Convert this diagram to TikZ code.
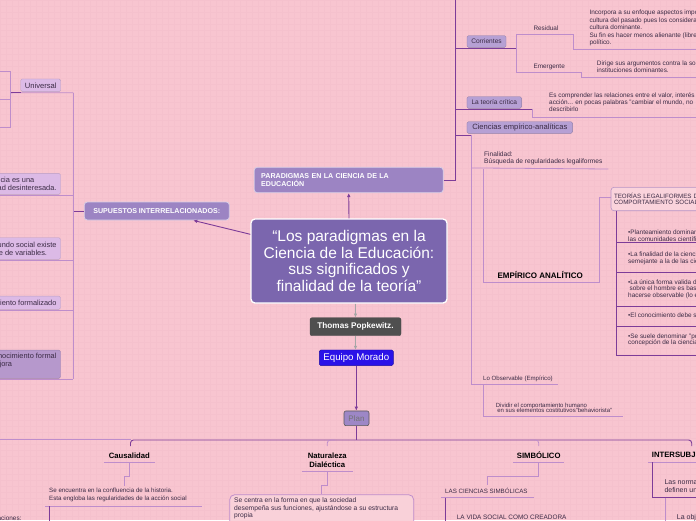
\documentclass[tikz,border=0pt]{standalone}
\usepackage{fontspec}
\setmainfont{Liberation Sans}
\usetikzlibrary{arrows.meta}
\definecolor{fondo}{HTML}{F8C5D0}
\definecolor{rejilla}{HTML}{F5C1CD}
\definecolor{centroc}{HTML}{7B66AE}
\definecolor{cabezac}{HTML}{9C84C3}
\definecolor{lila}{HTML}{B6A0D4}
\definecolor{lilaclaro}{HTML}{DCBAE6}
\definecolor{lilaosc}{HTML}{B698CC}
\definecolor{lineaosc}{HTML}{7D3C98}
\definecolor{lineaclc}{HTML}{BE8DCB}
\definecolor{texto}{HTML}{3B2B45}
\definecolor{grisc}{HTML}{4F4F4F}
\definecolor{azulc}{HTML}{2A12E8}
\definecolor{planc}{HTML}{9D87C6}
\newcommand{\tam}[2]{\fontsize{#1}{#2}\selectfont}

\begin{document}
\begin{tikzpicture}[x=1pt,y=-1pt,
  tema/.style={fill=centroc,draw=white,line width=1.3pt,rounded corners=4pt,text=white,
    align=center,font=\tam{15.5}{16.7},minimum width=196,minimum height=84,inner sep=0},
  cabeza/.style={fill=cabezac,draw=white!60!cabezac,line width=0.8pt,rounded corners=3pt,
    text=white,font=\bfseries\tam{7.1}{8},inner sep=0},
  rama/.style={fill=lila,draw=lila!80!black,line width=0.4pt,rounded corners=1.5pt,
    text=texto,font=\tam{6.6}{8},inner sep=0},
  hoja/.style={inner sep=0,text=texto,font=\tam{6.4}{7.35},align=left,anchor=west},
  etiq/.style={inner sep=0,text=black,font=\bfseries\tam{7.7}{9},align=center},
  izq/.style={fill=lilaclaro,draw=lilaclaro!85!black,line width=0.4pt,rounded corners=1.5pt,
    text=texto,font=\tam{7.4}{8},align=left,inner xsep=4pt,inner ysep=0,anchor=east},
  linea/.style={draw=lineaosc,line width=0.9pt},
  lineacl/.style={draw=lineaclc,line width=0.8pt},
  punta/.style={-{Latex[length=4pt,width=3.6pt]}}]
\clip (0,0) rectangle (696,520);
% fondo con rejilla
\fill[fondo] (0,0) rectangle (696,520);
\foreach \i in {0,6,...,696} { \draw[rejilla,line width=0.25pt] (\i,0) -- (\i,520); }
\foreach \j in {0,6,...,520} { \draw[rejilla,line width=0.25pt] (0,\j) -- (696,\j); }

% tema central
\node[tema] (tema) at (349,261) {“Los paradigmas en la\\Ciencia de la Educación:\\sus significados y\\finalidad de la teoría”};
\node[cabeza,minimum width=189,minimum height=25.4,text width=175,align=left] (parad) at (348.7,180)
  {PARADIGMAS EN LA CIENCIA DE LA\\EDUCACIÓN};
\node[cabeza,minimum width=145,minimum height=18] (sup) at (156.8,211) {SUPUESTOS INTERRELACIONADOS:};
\node[fill=grisc,draw=black!70,rounded corners=2pt,text=white,font=\bfseries\tam{8.2}{9},
  minimum width=91,minimum height=18,inner sep=0] (thomas) at (355.5,326.7) {Thomas Popkewitz.};
\node[fill=azulc,draw=azulc!70!black,rounded corners=1.5pt,text=white,font=\tam{9.7}{11},
  minimum width=74,minimum height=15.7,inner sep=0] (equipo) at (356.3,357.8) {Equipo Morado};
\node[fill=planc,draw=black!65,line width=0.6pt,rounded corners=2pt,text=black!55,font=\tam{8}{9},
  minimum width=25,minimum height=14.7,inner sep=0] (plan) at (356.5,418.3) {Plan};
\draw[linea,punta] (tema.north) -- (parad.south);
\draw[linea,punta] ([yshift=26.7pt]tema.west) -- ([xshift=36.5pt]sup.south);
\draw[black!35,line width=0.8pt,punta] (thomas.north |- tema.south) -- (thomas.north);
\draw[black!35,line width=0.8pt,punta] (thomas.south) -- (thomas.south |- equipo.north);
\draw[linea,punta] (equipo.south) -- (equipo.south |- plan.north);

% rama derecha superior
\coordinate (eje) at (455,180);
\coordinate (ejesup) at (455,-2);
\draw[linea] (parad.east) -- (eje) -- (ejesup);
\node[rama,minimum width=39,minimum height=11.6] (corr) at (486.5,41.5) {Corrientes};
\coordinate (corrR) at (516.7,48.3);
\draw[linea] (eje |- corrR) -- (corrR);
\node[hoja] (resid) at (533.3,28) {Residual};
\node[hoja] (emerg) at (533.3,67) {Emergente};
\coordinate (residR) at (573.3,34);
\coordinate (emergR) at (581,72.7);
\draw[lineacl] (corrR |- residR) -- (corrR |- emergR);
\draw[lineacl] (corrR |- residR) -- (residR) -- (573.3,49.3) -- (700,49.3);
\draw[lineacl] (corrR |- emergR) -- (emergR) -- (581,77) -- (700,77);
\node[hoja] (residtx) at (589.3,28) {Incorpora a su enfoque aspectos importantes de la\\cultura del pasado pues los considera parte de la\\cultura dominante.\\Su fin es hacer menos alienante (libre) el sistema\\político.};
\node[hoja] (emergtx) at (596.7,66.7) {Dirige sus argumentos contra la sociedad y las\\instituciones dominantes.};

\node[rama,minimum width=54.7,minimum height=11.6] (critica) at (494.3,102.5) {La teoría crítica};
\coordinate (criticaR) at (532.7,109);
\draw[linea] (eje |- criticaR) -- (criticaR);
\draw[lineacl] (criticaR) -- (532.7,117.3) -- (700,117.3);
\node[hoja] (criticatx) at (549,102.3) {Es comprender las relaciones entre el valor, interés y\\acción... en pocas palabras "cambiar el mundo, no\\describirlo};

\node[rama,font=\tam{7.6}{9},minimum width=105.7,minimum height=11.6] (cienc) at (519.8,127.5) {Ciencias empírico-analíticas};
\coordinate (ciencL) at (471.7,135);
\coordinate (observ) at (471.7,384.3);
\draw[linea] (eje |- ciencL) -- (ciencL);
\draw[lineacl] (ciencL) -- (observ) -- (557.7,384.3);
\node[hoja,font=\tam{6.6}{7.3}] (final) at (484,158.5) {Finalidad:\\Búsqueda de regularidades legaliformes};
\draw[lineacl] (ciencL |- final.south) ++(0,2.5) -- (608.3,169);
\node[etiq,font=\bfseries\tam{8}{9}] (empan) at (540.3,275.3) {EMPÍRICO ANALÍTICO};
\node[anchor=west,fill=fondo!75!white,draw=lineaosc!55,line width=0.6pt,rounded corners=3pt,
  text=texto,font=\tam{6.2}{6.6},align=left,inner xsep=3pt,minimum height=23.4,text width=110] (teorias) at (610.7,199)
  {TEORÍAS LEGALIFORMES DEL\\COMPORTAMIENTO SOCIAL};
\draw[lineacl] (483.3,169) -- (483.3,282.7) -- (599,282.7) -- (599,197) -- (teorias.west |- 0,197);
\draw[linea,line width=0.7pt] (616,210.7) -- (616,355) -- (700,355);
\foreach \y in {242.3,272.3,306,326.7} { \draw[linea,line width=0.7pt] (616,\y) -- (700,\y); }
\node[hoja,font=\tam{6.4}{6.4}] (it1) at (628,235.7) {•Planteamiento dominante en\\las comunidades científicas};
\node[hoja,font=\tam{6.4}{6.4}] (it2) at (628,258.5) {•La finalidad de la ciencia es\\semejante a la de las ciencias};
\node[hoja,font=\tam{6.4}{5.9}] (it3) at (628,289.2) {•La única forma valida de conocer\\\hspace{1.5pt}sobre el hombre es basarse en lo que\\hacerse observable (lo empírico)};
\node[hoja,font=\tam{6.4}{6.4}] (it4) at (628,315.7) {•El conocimiento debe ser verificable};
\node[hoja,font=\tam{6.4}{6.6}] (it5) at (628,340) {•Se suele denominar "positivista" a esta\\concepción de la ciencia};
\node[hoja,font=\tam{6.1}{7}] (observtx) at (483,378.7) {Lo Observable (Empírico)};
\draw[lineacl] (483.3,384.3) -- (483.3,416.7) -- (622.7,416.7);
\node[hoja,font=\tam{6}{5.9}] (dividir) at (495.7,407.8) {Dividir el comportamiento humano\\\hspace{1.5pt}en sus elementos costitutivos"behaviorista"};

% rama izquierda
\draw[linea] (sup.west) -- (73.3,211);
\draw[lineacl] (73.3,92.7) -- (73.3,379);
\node[izq,anchor=center,minimum width=40,minimum height=12.7,align=center,font=\tam{7.6}{8}] (univ) at (40.7,85.3) {Universal};
\draw[lineacl] (univ.south -| 10.7,0) ++(0,1) -- (73.3,92.7);
\draw[linea] (10.7,92.7) -- (20.7,92.7);
\draw[lineacl] (-2,71.7) -- (10.7,71.7) -- (10.7,127.7) -- (-2,127.7);
\draw[lineacl] (-2,99.3) -- (10.7,99.3);
\node[izq,minimum height=21] (ciencia) at (60.7,183.8) {La ciencia es una\\actividad desinteresada.};
\draw[lineacl] (-2,195.7) -- (73.3,195.7);
\node[izq,minimum height=21.6] (mundo) at (60.7,248.5) {En el mundo social existe\\una serie de variables.};
\draw[lineacl] (-2,260) -- (73.3,260);
\node[izq,minimum height=13.3] (formal) at (60.7,302.7) {Conocimiento formalizado};
\draw[lineacl] (-2,310) -- (73.3,310);
\node[izq,fill=lilaosc,draw=lilaosc!85!black,minimum height=28.3] (mejora) at (60.7,364.2) {El conocimiento formal\\lo mejora\\\mbox{}};
\draw[lineacl] (-2,379) -- (73.3,379);

% rama inferior
\coordinate (ramal) at (356.5,440);
\draw[linea] (plan.south) -- (ramal);
\draw[lineacl] (0,439.5) -- (130.5,439.5);
\draw[linea,rounded corners=3pt] (130.5,446) |- (691.7,440) -- (691.7,446);
\draw[lineacl,rounded corners=3pt] (335,440) -| (327.3,446);
\draw[lineacl,rounded corners=3pt] (530,440) -| (538.7,446);

\node[etiq] (causa) at (129.3,455.3) {Causalidad};
\draw[lineacl] (104.3,462.3) -- (155,462.3);
\draw[lineacl] (129.3,462.3) -- (129.3,476.7) -- (124,476.7) -- (124,486);
\node[hoja,font=\tam{6.2}{7.7}] (causatx) at (49,495.2) {Se encuentra en la confluencia de la historia.\\Esta engloba las regularidades de la acción social};
\draw[lineacl] (45,506) -- (202.3,506);
\draw[linea] (49.3,506) -- (49.3,525);
\node[hoja,anchor=east,font=\tam{6.4}{7}] (relac) at (21.7,518) {Interrelaciones:};

\node[etiq] (natur) at (327.3,459.8) {Naturaleza\\Dialéctica};
\draw[lineacl] (301.7,471) -- (353.3,471);
\draw[lineacl] (327.3,471) -- (327.3,485) -- (321.7,485) -- (321.7,494.3);
\node[anchor=north west,fill=fondo!80!white,draw=lineaclc,line width=0.8pt,rounded corners=5pt,
  minimum width=184,minimum height=40] (naturbox) at (229.3,494.3) {};
\node[hoja,anchor=north west,font=\tam{6.7}{7.7}] (naturtx) at (234,497.5)
  {Se centra en la forma en que la sociedad\\desempeña sus funciones, ajustándose a su estructura\\propia};

\node[etiq] (simb) at (538.7,455.3) {SIMBÓLICO};
\draw[lineacl] (513.3,462.3) -- (564.3,462.3);
\draw[lineacl] (538.7,462.3) -- (538.7,476) -- (487.3,476) -- (487.3,485);
\node[hoja,font=\tam{6.2}{7}] (csimb) at (445,490.7) {LAS CIENCIAS SIMBÓLICAS};
\draw[lineacl] (441,497.7) -- (534,497.7);
\draw[linea] (445,497.7) -- (445,525);
\node[hoja,font=\tam{6.4}{7}] (vida) at (456.7,517.3) {LA VIDA SOCIAL COMO CREADORA};

\node[etiq,anchor=west] (inter) at (651.7,455.3) {INTERSUBJETIVO};
\draw[lineacl] (648,462.3) -- (700,462.3);
\draw[linea] (652.3,462.3) -- (652.3,497.7) -- (700,497.7);
\node[hoja,font=\tam{7}{7.7}] (normas) at (664.3,486.2) {Las normas sociales\\definen una realidad};
\draw[lineacl] (665,497.7) -- (665,525);
\node[hoja,font=\tam{7}{8}] (objet) at (676.7,517.3) {La objetividad};
\end{tikzpicture}
\end{document}
